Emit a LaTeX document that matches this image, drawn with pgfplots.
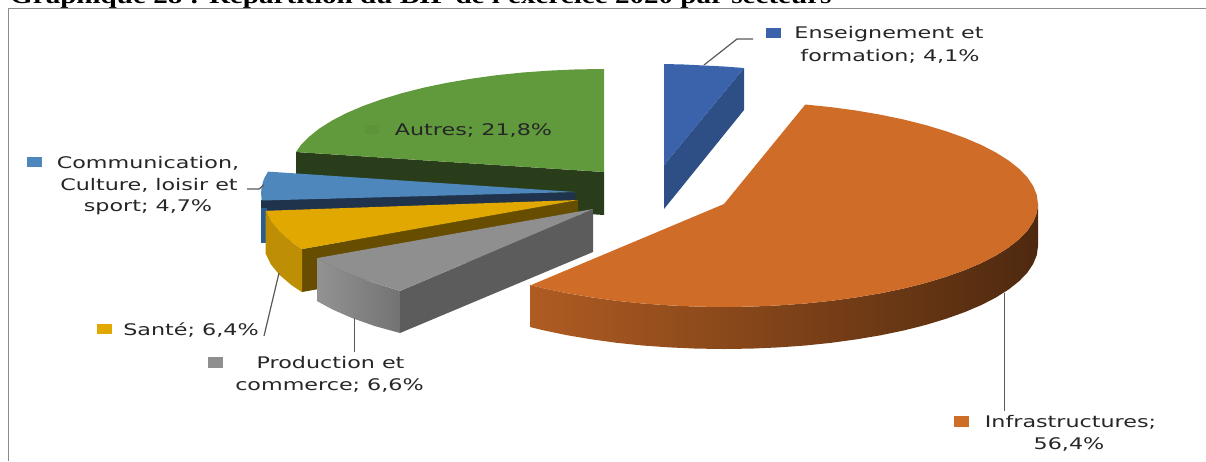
\documentclass[border=0pt]{standalone}
\usepackage{pgfplots}
\pgfplotsset{compat=1.18}
\usepackage{fontspec}
\setmainfont{DejaVu Sans}
\newfontfamily\lab[FakeStretch=1.39]{DejaVu Sans}
\newfontfamily\ttl[FakeStretch=1.265]{Liberation Serif}
\definecolor{gtop}{HTML}{619A3C}
\definecolor{gside}{HTML}{2A3D1A}
\definecolor{ctop}{HTML}{4E87BC}
\definecolor{cside}{HTML}{1F344C}
\definecolor{cedge}{HTML}{2B5E8E}
\definecolor{ytop}{HTML}{E0A800}
\definecolor{yfront}{HTML}{BE8E04}
\definecolor{yside}{HTML}{664D00}
\definecolor{ptop}{HTML}{8F8F8F}
\definecolor{pside}{HTML}{5C5C5C}
\definecolor{otop}{HTML}{CE6C28}
\definecolor{etop}{HTML}{3A63AC}
\definecolor{eside}{HTML}{2D4F85}
\definecolor{leader}{HTML}{595959}
\definecolor{txt}{HTML}{262626}
\tikzset{lbl/.style={font=\lab\fontsize{16}{22}\selectfont,text=txt,inner sep=0pt,anchor=center}}
\begin{document}
\begin{tikzpicture}
\useasboundingbox (0,0) rectangle (1206pt,461pt);
\begin{axis}[
  at={(0,0)},anchor=south west,
  width=1206pt,height=461pt,scale only axis,
  xmin=0,xmax=1206,ymin=0,ymax=461,y dir=reverse,
  hide axis,clip=false,
  every axis plot/.append style={draw=none,forget plot},
]
% frame
\addplot[draw=gray!90,line width=1pt] coordinates {(8.5,461) (8.5,8.5) (1206,8.5)};
% Autres: side then top
\addplot[fill=gside] coordinates {(296,152) (604,172) (604,215) (296,195)} -- cycle;
\addplot[fill=gtop] coordinates {(604,172) (296,152) (300.7,145.3) (309,136.8) (319.4,128.5) (332.1,120.5) (346.8,112.9) (363.5,105.8) (382,99.2) (402.2,93.1) (423.9,87.6) (447,82.8) (471.3,78.7) (496.6,75.2) (522.7,72.5) (549.5,70.6) (576.6,69.4) (604,69)} -- cycle;
\addplot[fill=gtop!96!black] coordinates {(365,125) (379,125) (379,134) (365,134)} -- cycle;
% Communication
\addplot[fill=cside] coordinates {(261,200) (575,192) (575,235) (261,243)} -- cycle;
\addplot[fill=cedge] coordinates {(261,208) (267,208) (267,243) (261,243)} -- cycle;
\addplot[fill=ctop] coordinates {(575,192) (268,171.6) (264,178.7) (261.8,185.8) (261,193) (261.8,200.5)} -- cycle;
% Sante
\addplot[fill=yside] coordinates {(302,249) (578,200) (578,243) (302,292)} -- cycle;
\addplot[fill=yfront] coordinates {(265.7,210.8) (270.9,221.4) (279.4,231.8) (291.2,241.9) (302,249.1) (302,292.1) (291.2,284.9) (279.4,274.8) (270.9,264.4) (265.7,253.8)} -- cycle;
\addplot[fill=ytop] coordinates {(578,200) (265.7,210.8) (270.9,221.4) (279.4,231.8) (291.2,241.9) (302,249.1)} -- cycle;
% Production
\addplot[fill=pside] coordinates {(400,291) (593,209) (593,252) (400,333)} -- cycle;
\addplot[left color=gray!85!white,right color=gray!90!black] coordinates {(317,258.1) (332.7,266.6) (352.5,275.2) (374.9,283.1) (400,291) (400,333) (374.9,326.1) (352.5,318.2) (332.7,309.6) (317,301.1)} -- cycle;
\addplot[fill=ptop] coordinates {(593,209) (317,258.1) (332.7,266.6) (352.5,275.2) (374.9,283.1) (400,291)} -- cycle;
% Infrastructures
\addplot[left color=otop!85!black,middle color=otop!45!black,right color=otop!38!black] coordinates {(1038,204) (1036.8,213) (1033.2,221.9) (1027.3,230.7) (1019.1,239.2) (1008.6,247.5) (995.9,255.5) (981.2,263.1) (964.5,270.2) (946,276.8) (925.8,282.9) (904.1,288.4) (881,293.2) (856.7,297.3) (831.4,300.8) (805.3,303.5) (778.5,305.4) (751.4,306.6) (724,307) (696.6,306.6) (669.5,305.4) (642.7,303.5) (616.6,300.8) (591.3,297.3) (567,293.2) (543.9,288.4) (530.7,285.2) (530.7,327.2) (543.9,330.4) (567,335.2) (591.3,339.3) (616.6,342.8) (642.7,345.5) (669.5,347.4) (696.6,348.6) (724,349) (751.4,348.6) (778.5,347.4) (805.3,345.5) (831.4,342.8) (856.7,339.3) (881,335.2) (904.1,330.4) (925.8,324.9) (946,318.8) (964.5,312.2) (981.2,305.1) (995.9,297.5) (1008.6,289.5) (1019.1,281.2) (1027.3,272.7) (1033.2,263.9) (1036.8,255) (1038,246)} -- cycle;
\addplot[fill=otop] coordinates {(724,204) (805.3,104.5) (831.4,107.2) (856.7,110.6) (881,114.8) (904.1,119.6) (925.8,125.1) (946,131.2) (964.5,137.8) (981.2,144.9) (995.9,152.5) (1008.6,160.5) (1019.1,168.8) (1027.3,177.3) (1033.2,186.1) (1036.8,195) (1038,204) (1036.8,213) (1033.2,221.9) (1027.3,230.7) (1019.1,239.2) (1008.6,247.5) (995.9,255.5) (981.2,263.1) (964.5,270.2) (946,276.8) (925.8,282.9) (904.1,288.4) (881,293.2) (856.7,297.3) (831.4,300.8) (805.3,303.5) (778.5,305.4) (751.4,306.6) (724,307) (696.6,306.6) (669.5,305.4) (642.7,303.5) (616.6,300.8) (591.3,297.3) (567,293.2) (543.9,288.4) (530.7,285.2)} -- cycle;
% Enseignement
\addplot[fill=eside] coordinates {(744,68) (664,165) (664,209) (744,110)} -- cycle;
\addplot[fill=etop] coordinates {(664,64) (684,64.5) (704,65.5) (724,66.5) (744,68) (664,165)} -- cycle;
% leaders
\addplot[draw=leader,line width=1.2pt] coordinates {(704,65) (737,39) (753,39)};
\addplot[draw=leader,line width=1.2pt] coordinates {(247,189) (259,189) (264,185)};
\addplot[draw=leader,line width=1.2pt] coordinates {(279,273) (264,336)};
\addplot[draw=leader,line width=1.2pt] coordinates {(354.5,318) (354.5,352)};
\addplot[draw=leader,line width=1.2pt] coordinates {(1004.7,293) (1004.7,411)};
% keys
\addplot[fill=etop] coordinates {(766,28) (781,28) (781,38) (766,38)} -- cycle;
\addplot[fill=ctop] coordinates {(27,157) (42,157) (42,167) (27,167)} -- cycle;
\addplot[fill=ytop] coordinates {(97,324) (112,324) (112,334) (97,334)} -- cycle;
\addplot[fill=ptop] coordinates {(208,357) (223,357) (223,368) (208,368)} -- cycle;
\addplot[fill=otop] coordinates {(954,416) (969,416) (969,427) (954,427)} -- cycle;
% labels
\node[lbl] at (axis cs:889,34) {Enseignement et};
\node[lbl] at (axis cs:890,56) {formation; 4,1\%};
\node[lbl] at (axis cs:148,163) {Communication,};
\node[lbl] at (axis cs:149,185) {Culture, loisir et};
\node[lbl] at (axis cs:148,207) {sport; 4,7\%};
\node[lbl] at (axis cs:191,330) {Santé; 6,4\%};
\node[lbl] at (axis cs:330.5,363) {Production et};
\node[lbl] at (axis cs:329.5,385) {commerce; 6,6\%};
\node[lbl] at (axis cs:1070.5,422) {Infrastructures;};
\node[lbl] at (axis cs:1069,444) {56,4\%};
\node[lbl] at (axis cs:473.5,130) {Autres; 21,8\%};
% title
\node[anchor=base west,inner sep=0pt,font=\ttl\bfseries\fontsize{23}{25}\selectfont] at (axis cs:10,3) {Graphique 28 : Répartition du BIP de l'exercice 2020 par secteurs};
\end{axis}
\end{tikzpicture}
\end{document}
